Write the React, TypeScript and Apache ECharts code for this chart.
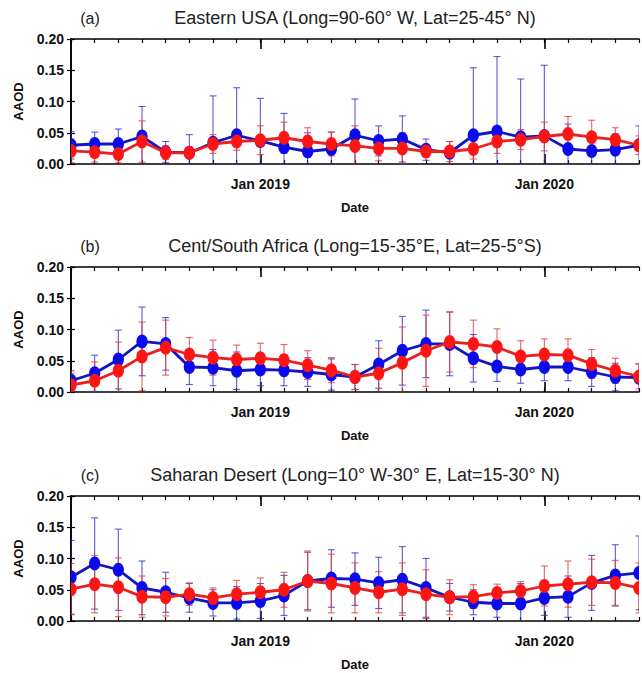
import React, { useEffect, useRef } from "react";
import * as echarts from "echarts";

const months = [
  "May 2018", "Jun 2018", "Jul 2018", "Aug 2018", "Sep 2018", "Oct 2018", "Nov 2018", "Dec 2018",
  "Jan 2019", "Feb 2019", "Mar 2019", "Apr 2019", "May 2019", "Jun 2019", "Jul 2019", "Aug 2019",
  "Sep 2019", "Oct 2019", "Nov 2019", "Dec 2019", "Jan 2020", "Feb 2020", "Mar 2020", "Apr 2020", "May 2020",
];
const tickLabels = ["Jan 2019", "Jan 2020"];
const yTicks = [0, 0.05, 0.1, 0.15, 0.2];

const panelTags = ["(a)", "(b)", "(c)"];
const panelTitles = [
  "Eastern USA (Long=90-60° W, Lat=25-45° N)",
  "Cent/South Africa (Long=15-35°E, Lat=25-5°S)",
  "Saharan Desert (Long=10° W-30° E, Lat=15-30° N)",
];

// Panel (a) Eastern USA
const usaBlue = [0.030, 0.032, 0.032, 0.044, 0.019, 0.018, 0.034, 0.046, 0.037, 0.027, 0.020, 0.024, 0.046, 0.037, 0.040, 0.023, 0.018, 0.046, 0.052, 0.043, 0.045, 0.024, 0.021, 0.023, 0.030];
const usaBlueErr = [0.022, 0.019, 0.024, 0.048, 0.017, 0.029, 0.075, 0.076, 0.068, 0.054, 0.030, 0.027, 0.058, 0.024, 0.037, 0.017, 0.018, 0.108, 0.120, 0.093, 0.113, 0.040, 0.029, 0.025, 0.031];
const usaRed = [0.021, 0.019, 0.016, 0.036, 0.018, 0.018, 0.032, 0.036, 0.038, 0.042, 0.036, 0.032, 0.029, 0.025, 0.025, 0.020, 0.020, 0.024, 0.036, 0.039, 0.044, 0.048, 0.043, 0.039, 0.030];
const usaRedErr = [0.019, 0.016, 0.014, 0.033, 0.011, 0.007, 0.015, 0.014, 0.023, 0.025, 0.022, 0.019, 0.032, 0.020, 0.025, 0.009, 0.016, 0.016, 0.019, 0.016, 0.023, 0.028, 0.027, 0.019, 0.015];

// Panel (b) Central/South Africa
const afrBlue = [0.018, 0.030, 0.052, 0.081, 0.077, 0.040, 0.039, 0.034, 0.036, 0.035, 0.032, 0.028, 0.024, 0.044, 0.066, 0.077, 0.077, 0.054, 0.041, 0.036, 0.040, 0.040, 0.032, 0.024, 0.023];
const afrBlueErr = [0.016, 0.029, 0.047, 0.055, 0.042, 0.028, 0.029, 0.030, 0.026, 0.025, 0.023, 0.025, 0.020, 0.038, 0.055, 0.054, 0.051, 0.038, 0.024, 0.022, 0.022, 0.022, 0.023, 0.022, 0.022];
const afrRed = [0.011, 0.018, 0.034, 0.057, 0.071, 0.060, 0.055, 0.052, 0.054, 0.051, 0.043, 0.035, 0.024, 0.030, 0.047, 0.066, 0.080, 0.077, 0.072, 0.057, 0.060, 0.059, 0.045, 0.034, 0.025];
const afrRedErr = [0.019, 0.030, 0.046, 0.055, 0.044, 0.027, 0.028, 0.023, 0.024, 0.025, 0.023, 0.020, 0.020, 0.040, 0.057, 0.057, 0.048, 0.038, 0.029, 0.025, 0.025, 0.026, 0.023, 0.020, 0.020];

// Panel (c) Saharan Desert
const sahBlue = [0.070, 0.092, 0.082, 0.053, 0.046, 0.037, 0.029, 0.029, 0.032, 0.041, 0.064, 0.068, 0.067, 0.061, 0.066, 0.053, 0.038, 0.030, 0.028, 0.028, 0.037, 0.039, 0.061, 0.073, 0.077];
const sahBlueErr = [0.059, 0.073, 0.065, 0.043, 0.032, 0.023, 0.021, 0.026, 0.028, 0.032, 0.046, 0.046, 0.042, 0.041, 0.053, 0.047, 0.022, 0.020, 0.022, 0.032, 0.028, 0.033, 0.044, 0.049, 0.059];
const sahRed = [0.051, 0.059, 0.054, 0.039, 0.038, 0.043, 0.037, 0.043, 0.046, 0.050, 0.064, 0.060, 0.053, 0.046, 0.051, 0.043, 0.038, 0.039, 0.045, 0.048, 0.056, 0.059, 0.062, 0.061, 0.053];
const sahRedErr = [0.041, 0.046, 0.047, 0.033, 0.030, 0.018, 0.016, 0.022, 0.023, 0.028, 0.048, 0.047, 0.040, 0.033, 0.042, 0.039, 0.028, 0.019, 0.014, 0.015, 0.032, 0.037, 0.037, 0.036, 0.040];

const panels = [
  { blue: usaBlue, blueErr: usaBlueErr, red: usaRed, redErr: usaRedErr },
  { blue: afrBlue, blueErr: afrBlueErr, red: afrRed, redErr: afrRedErr },
  { blue: sahBlue, blueErr: sahBlueErr, red: sahRed, redErr: sahRedErr },
];

const GRID_LEFT = 71;
const GRID_WIDTH = 568;
const GRID_TOPS = [39, 267, 496];
const GRID_HEIGHT = 125;
const TITLE_YS = [18, 246, 475];

const FONT = "Liberation Sans, Arial, sans-serif";
const BLUE_PT = "#0a0aee";
const BLUE_LINE = "#1414c4";
const BLUE_ERR = "rgba(50,50,200,0.8)";
const RED_PT = "#ff1414";
const RED_LINE = "#e82222";
const RED_ERR = "rgba(225,60,60,0.8)";

function buildOption() {
  const tickIdx = tickLabels.map((l) => months.indexOf(l));
  const maxX = months.length - 1;
  const grid: any[] = [];
  const xAxis: any[] = [];
  const yAxis: any[] = [];
  const series: any[] = [];
  const graphic: any[] = [];

  const errRender = (color: string) => (params: any, api: any) => {
    const x = api.value(0);
    const m = api.value(1);
    const e = api.value(2);
    const top = api.coord([x, m + e]);
    const bot = api.coord([x, m - e]);
    const hw = 3.5;
    const st = { stroke: color, lineWidth: 1.1 };
    return {
      type: "group",
      children: [
        { type: "line", shape: { x1: top[0], y1: top[1], x2: bot[0], y2: bot[1] }, style: st },
        { type: "line", shape: { x1: top[0] - hw, y1: top[1], x2: top[0] + hw, y2: top[1] }, style: st },
        { type: "line", shape: { x1: bot[0] - hw, y1: bot[1], x2: bot[0] + hw, y2: bot[1] }, style: st },
      ],
    };
  };
  const ptRender = (color: string) => (params: any, api: any) => {
    const p = api.coord([api.value(0), api.value(1)]);
    return { type: "ellipse", shape: { cx: p[0], cy: p[1], rx: 5.6, ry: 7 }, style: { fill: color } };
  };

  const labelStyle = { color: "#111", fontFamily: FONT, fontWeight: "bold", fontSize: 14 };

  panels.forEach((pd, i) => {
    grid.push({ left: GRID_LEFT, top: GRID_TOPS[i], width: GRID_WIDTH, height: GRID_HEIGHT, show: false });
    const base = {
      type: "value",
      gridIndex: i,
      min: 0,
      max: maxX,
      splitLine: { show: false },
    };
    xAxis.push({
      ...base,
      position: "bottom",
      interval: 1,
      axisLine: { show: true, lineStyle: { color: "#000", width: 1.6 } },
      axisTick: { show: true, inside: true, length: 4, lineStyle: { color: "#000", width: 1.2 } },
      axisLabel: { show: false },
    });
    xAxis.push({
      ...base,
      position: "bottom",
      axisLine: { show: false },
      axisTick: { show: true, inside: true, length: 10, customValues: tickIdx, lineStyle: { color: "#000", width: 1.6 } },
      axisLabel: {
        show: true,
        customValues: tickIdx,
        formatter: (v: number) => {
          const k = tickIdx.indexOf(Math.round(v));
          return k >= 0 ? tickLabels[k] : "";
        },
        margin: 13,
        ...labelStyle,
      },
      name: "Date",
      nameLocation: "middle",
      nameGap: 37,
      nameTextStyle: { ...labelStyle, fontSize: 13 },
    });
    xAxis.push({
      ...base,
      position: "top",
      interval: 1,
      axisLine: { show: true, lineStyle: { color: "#000", width: 1.6 } },
      axisTick: { show: true, inside: true, length: 4, lineStyle: { color: "#000", width: 1.2 } },
      axisLabel: { show: false },
    });
    xAxis.push({
      ...base,
      position: "top",
      axisLine: { show: false },
      axisTick: { show: true, inside: true, length: 10, customValues: tickIdx, lineStyle: { color: "#000", width: 1.6 } },
      axisLabel: { show: false },
    });
    yAxis.push({
      type: "value",
      gridIndex: i,
      position: "left",
      min: yTicks[0],
      max: yTicks[yTicks.length - 1],
      interval: yTicks[1] - yTicks[0],
      splitLine: { show: false },
      axisLine: { show: true, lineStyle: { color: "#000", width: 1.6 } },
      axisTick: { show: true, inside: false, length: 4, lineStyle: { color: "#000", width: 1.2 } },
      axisLabel: {
        formatter: (v: number) => v.toFixed(2),
        margin: 7,
        ...labelStyle,
      },
      name: "AAOD",
      nameLocation: "middle",
      nameRotate: 90,
      nameGap: 46,
      nameTextStyle: { ...labelStyle, fontSize: 13 },
    });
    yAxis.push({
      type: "value",
      gridIndex: i,
      position: "right",
      min: yTicks[0],
      max: yTicks[yTicks.length - 1],
      interval: yTicks[1] - yTicks[0],
      splitLine: { show: false },
      axisLine: { show: true, lineStyle: { color: "#000", width: 1.6 } },
      axisTick: { show: true, inside: false, length: 4, lineStyle: { color: "#000", width: 1.2 } },
      axisLabel: { show: false },
    });

    const xi = i * 4;
    const yi = i * 2;
    const mk = (vals: number[], errs?: number[]) =>
      vals.map((v, k) => (errs ? [k, v, errs[k]] : [k, v]));

    series.push({
      type: "custom", xAxisIndex: xi, yAxisIndex: yi, clip: true, z: 2,
      renderItem: errRender(BLUE_ERR), data: mk(pd.blue, pd.blueErr), encode: { x: 0, y: 1 },
    });
    series.push({
      type: "custom", xAxisIndex: xi, yAxisIndex: yi, clip: true, z: 2,
      renderItem: errRender(RED_ERR), data: mk(pd.red, pd.redErr), encode: { x: 0, y: 1 },
    });
    series.push({
      type: "line", xAxisIndex: xi, yAxisIndex: yi, clip: true, z: 3, symbol: "none",
      lineStyle: { color: BLUE_LINE, width: 2.8 }, data: mk(pd.blue),
    });
    series.push({
      type: "custom", xAxisIndex: xi, yAxisIndex: yi, clip: true, z: 4,
      renderItem: ptRender(BLUE_PT), data: mk(pd.blue), encode: { x: 0, y: 1 },
    });
    series.push({
      type: "line", xAxisIndex: xi, yAxisIndex: yi, clip: true, z: 5, symbol: "none",
      lineStyle: { color: RED_LINE, width: 2.8 }, data: mk(pd.red),
    });
    series.push({
      type: "custom", xAxisIndex: xi, yAxisIndex: yi, clip: true, z: 6,
      renderItem: ptRender(RED_PT), data: mk(pd.red), encode: { x: 0, y: 1 },
    });

    graphic.push({
      type: "text", x: 90, y: TITLE_YS[i],
      style: { text: panelTags[i], fill: "#222", font: `16px ${FONT}`, textAlign: "center", textVerticalAlign: "middle" },
    });
    graphic.push({
      type: "text", x: 355, y: TITLE_YS[i],
      style: { text: panelTitles[i], fill: "#222", font: `18px ${FONT}`, textAlign: "center", textVerticalAlign: "middle" },
    });
  });

  return {
    animation: false,
    backgroundColor: "#ffffff",
    grid,
    xAxis,
    yAxis,
    series,
    graphic,
  };
}

export default function App() {
  const ref = useRef<HTMLDivElement>(null);
  useEffect(() => {
    if (!ref.current) return;
    const chart = echarts.init(ref.current, null, { renderer: "svg" });
    chart.setOption(buildOption() as any);
    return () => chart.dispose();
  }, []);
  return (
    <div
      ref={ref}
      style={{ position: "fixed", left: 0, top: 0, width: 642, height: 673, background: "#fff" }}
    />
  );
}
